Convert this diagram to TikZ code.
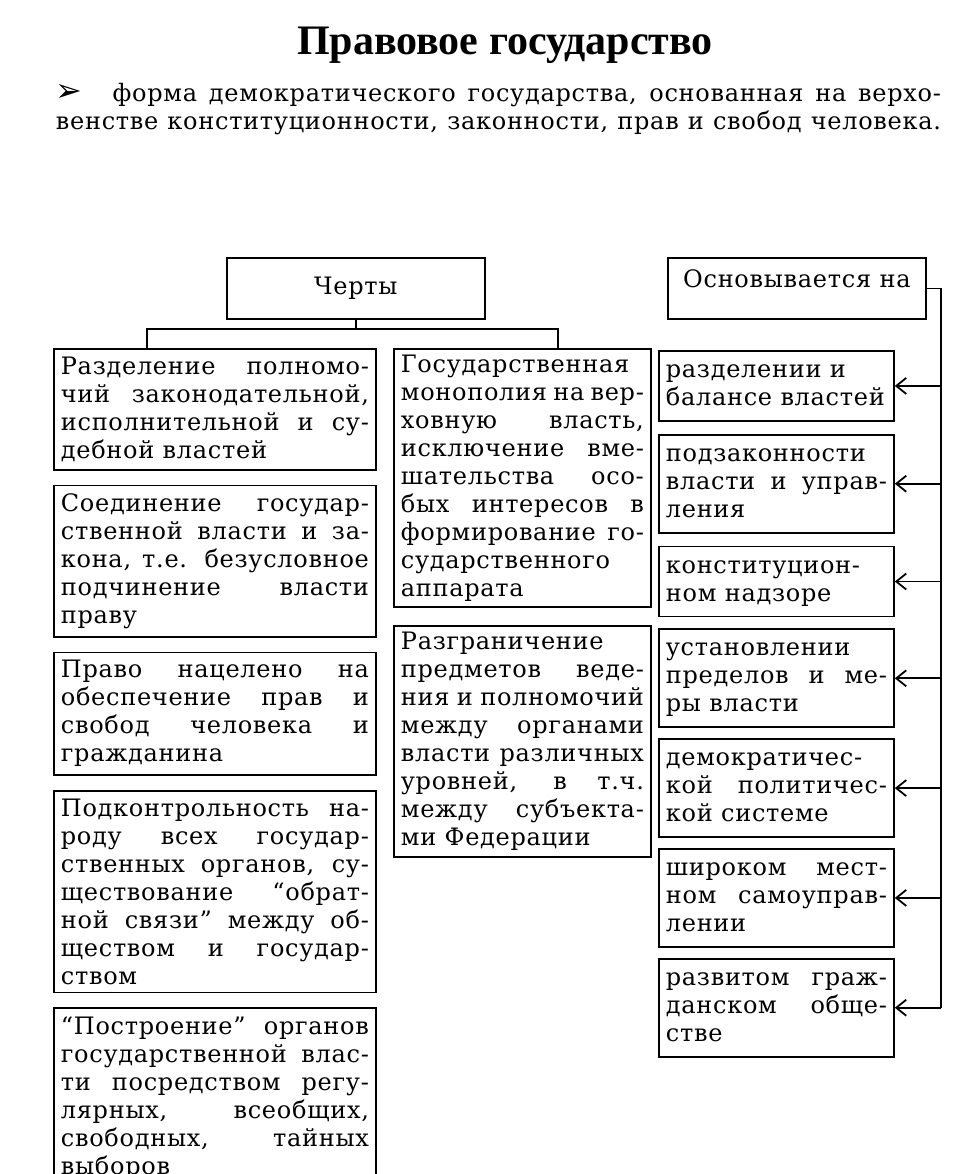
\documentclass[tikz,border=0pt]{standalone}
\usepackage{fontspec}
\setmainfont{DejaVu Serif}[LetterSpace=3]
\newfontfamily\titlefont{Liberation Serif}
\newfontfamily\symfont{DejaVu Sans}
\usetikzlibrary{positioning, arrows.meta}

\begin{document}
\begin{tikzpicture}[x=0.5pt, y=-0.5pt, node distance=7pt,
    >={Straight Barb[length=5pt,width=8pt]}, line width=0.9pt,
    every node/.style={font=\fontsize{12}{14}\selectfont},
    cell/.style={draw, align=justify, inner xsep=3.5pt, inner ysep=4pt},
    leftcell/.style={cell, text width=154pt},
    midcell/.style={cell, text width=121.5pt, inner ysep=3pt},
    rightcell/.style={cell, text width=110.5pt, inner ysep=3.5pt,
        execute at begin node=\strut, execute at end node=\strut},
    head/.style={draw, minimum width=129pt, minimum height=30.5pt}]
    \clip (0,0) rectangle (956,1174);
    \fill[white] (0,0) rectangle (956,1174);

    \node (title) at (505,45) {\titlefont\bfseries\fontsize{21}{24}\selectfont Правовое государство};
    \node[anchor=north west, inner sep=0pt, text width=442.5pt, align=justify] (def) at (55,82)
        {{\symfont\fontsize{16}{14}\selectfont ➢}\hspace{15pt}форма демократического государства, основанная на верхо-\linebreak
         \makebox[\linewidth][s]{венстве конституционности, законности, прав и свобод человека.}};

    \node[head, anchor=north west] (cherty) at (226,257) {Черты};
    \node[head, anchor=north west, text depth=10pt] (osn) at (667,257) {Основывается на};

    % features
    \node[leftcell, anchor=north west] (l1) at (53,348) {Разделение полномо-\linebreak чий законодательной,\linebreak исполнительной и су-\linebreak дебной властей};
    \node[leftcell, below=of l1] (l2) {Соединение государ-\linebreak ственной власти и за-\linebreak кона, т.е. безусловное\linebreak подчинение власти\linebreak праву};
    \node[leftcell, below=of l2] (l3) {Право нацелено на\linebreak обеспечение прав и\linebreak свобод человека и\linebreak гражданина};
    \node[leftcell, below=of l3] (l4) {Подконтрольность на-\linebreak роду всех государ-\linebreak ственных органов, су-\linebreak ществование “обрат-\linebreak ной связи” между об-\linebreak ществом и государ-\linebreak ством};
    \node[leftcell, below=of l4] (l5) {“Построение” органов\linebreak государственной влас-\linebreak ти посредством регу-\linebreak лярных, всеобщих,\linebreak свободных, тайных\linebreak выборов};

    \node[midcell, anchor=north west] (m1) at (393,348) {Государственная\linebreak монополия на вер-\linebreak ховную власть,\linebreak исключение вме-\linebreak шательства осо-\linebreak бых интересов в\linebreak формирование го-\linebreak сударственного\linebreak аппарата};
    \node[midcell, below=8.5pt of m1] (m2) {Разграничение\linebreak предметов веде-\linebreak ния и полномочий\linebreak между органами\linebreak власти различных\linebreak уровней, в т.ч.\linebreak между субъекта-\linebreak ми Федерации};

    % foundations
    \node[rightcell, anchor=north west] (r1) at (658,350) {разделении и\\ балансе властей};
    \node[rightcell, below=6pt of r1] (r2) {подзаконности\linebreak власти и управ-\linebreak ления};
    \node[rightcell, below=6pt of r2] (r3) {конституцион-\linebreak ном надзоре};
    \node[rightcell, below=5.5pt of r3] (r4) {установлении\linebreak пределов и ме-\linebreak ры власти};
    \node[rightcell, below=5pt of r4] (r5) {демократичес-\linebreak кой политичес-\linebreak кой системе};
    \node[rightcell, below=5pt of r5] (r6) {широком мест-\linebreak ном самоуправ-\linebreak лении};
    \node[rightcell, below=5pt of r6] (r7) {развитом граж-\linebreak данском обще-\linebreak стве};

    \coordinate (forkl) at (147,329);
    \coordinate (forkr) at (558,329);
    \coordinate (trunk) at (941,290);

    \draw (cherty.south) -- (cherty.south |- forkl);
    \draw (forkl |- l1.north) -- (forkl) -- (forkr) -- (forkr |- m1.north);
    \draw (osn.east) -- (trunk |- osn.east) -- (trunk |- r7.east);
    \foreach \i in {1,...,7}
        \draw[->] (trunk |- r\i.east) -- (r\i.east);
\end{tikzpicture}
\end{document}
